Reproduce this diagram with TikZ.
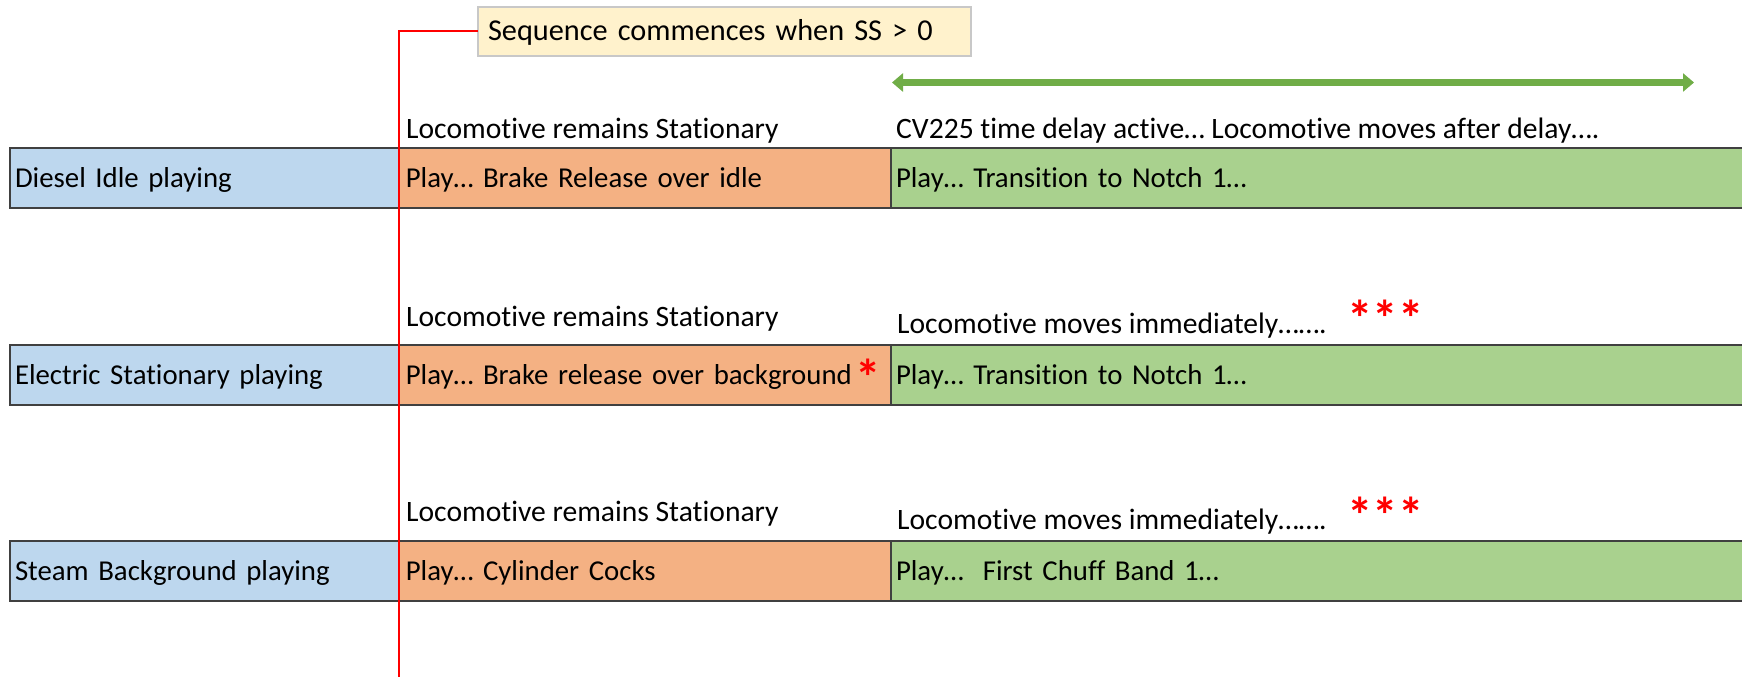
\documentclass[tikz,border=0pt]{standalone}
\usepackage{fontspec}
\setmainfont{Carlito}[Ligatures={NoCommon}]
\usetikzlibrary{arrows.meta}
\definecolor{bluefill}{HTML}{BDD7EE}
\definecolor{orangefill}{HTML}{F4B183}
\definecolor{greenfill}{HTML}{A9D18E}
\definecolor{calloutfill}{HTML}{FFF2CC}
\definecolor{calloutedge}{HTML}{C8C8C8}
\definecolor{boxedge}{HTML}{404040}
\definecolor{arrowgreen}{HTML}{70AD47}
\newcommand{\mainfs}{\fontsize{28.8}{34}\selectfont}
\newcommand{\lblfs}{\fontsize{29.6}{35}\selectfont}
\newcommand{\calloutfs}{\fontsize{30.3}{36}\selectfont}
\newcommand{\starfs}{\fontsize{51}{56}\selectfont\bfseries}
\begin{document}
\begin{tikzpicture}[x=1pt,y=-1pt,
  rowbox/.style={draw=boxedge, line width=2pt, anchor=north west, minimum height=60pt,
    outer sep=0pt, inner xsep=5pt, inner ysep=0pt, text height=18pt, text depth=0pt,
    align=left, font=\mainfs},
  bluebox/.style={rowbox, fill=bluefill, inner xsep=5pt, text width=379pt},
  orangebox/.style={rowbox, fill=orangefill, inner xsep=6.8pt, text width=478.4pt},
  greenbox/.style={rowbox, fill=greenfill, inner xsep=5pt, text width=850pt},
  lbl/.style={anchor=base west, inner sep=0pt, font=\lblfs},
  stars/.style={anchor=base west, inner sep=0pt, font=\starfs, text=red},
  callout/.style={draw=calloutedge, line width=1.5pt, fill=calloutfill, anchor=north west,
    minimum height=49pt, outer sep=0pt, inner xsep=10pt, inner ysep=0pt, text height=19pt,
    text depth=0pt, align=left, font=\calloutfs},
  redline/.style={draw=red, line width=2pt},
  greenarrow/.style={draw=arrowgreen, line width=6.5pt,
    {Triangle[length=11pt,width=18pt]}-{Triangle[length=11pt,width=18pt]}}
]
\path[use as bounding box] (0,0) rectangle (1742,677);

% callout
\node[callout, text width=473pt] (co) at (478,7) {Sequence commences when SS > 0};

% green double arrow
\coordinate (ga) at (892,82.5);
\coordinate (gb) at (1694,82.5);
\draw[greenarrow] (ga) -- (gb);

% row 1
\node[bluebox] (a1) at (10,148) {Diesel Idle playing};
\node[orangebox] (a2) at (a1.north east) {Play… Brake Release over idle};
\node[greenbox] (a3) at (a2.north east) {Play… Transition to Notch 1…};
\node[lbl] (la1) at (406,138) {Locomotive remains Stationary};
\node[lbl] (la2) at (896,138) {CV225 time delay active… Locomotive moves after delay….};

% row 2
\node[bluebox] (b1) at (10,345) {Electric Stationary playing};
\node[orangebox] (b2) at (b1.north east) {Play… Brake release over background};
\node[greenbox] (b3) at (b2.north east) {Play… Transition to Notch 1…};
\node[lbl] (lb1) at (406,326) {Locomotive remains Stationary};
\node[lbl] (lb2) at (897,333) {Locomotive moves immediately…….};
\node[stars] (sb1) at (1347,336) {***};
\node[stars] (sb2) at (855.5,395) {*};

% row 3
\node[bluebox] (c1) at (10,541) {Steam Background playing};
\node[orangebox] (c2) at (c1.north east) {Play… Cylinder Cocks};
\node[greenbox] (c3) at (c2.north east) {Play…\ \ First Chuff Band 1…};
\node[lbl] (lc1) at (406,521) {Locomotive remains Stationary};
\node[lbl] (lc2) at (897,529) {Locomotive moves immediately…….};
\node[stars] (sc1) at (1347,533) {***};

% red marker line
\coordinate (rbot) at (398.5,677);
\draw[redline] (co.west) -| (rbot);
\end{tikzpicture}
\end{document}
